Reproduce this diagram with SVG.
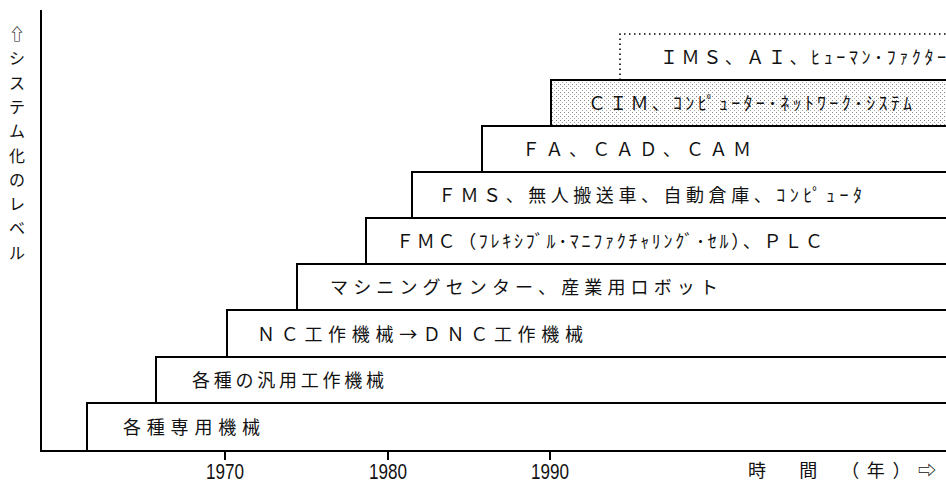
<svg xmlns="http://www.w3.org/2000/svg" width="946" height="487" viewBox="0 0 946 487">
<style>
.bar{fill:#fff;stroke:#000;stroke-width:2}
.dot{fill:none;stroke:#000;stroke-width:1.6;stroke-dasharray:1.5 3.5}
.ax{stroke:#000;stroke-width:2;fill:none}
.t{font-family:"Noto Sans CJK JP","Noto Sans",sans-serif;font-size:18px;fill:#111}
.y{font-family:"Liberation Sans",sans-serif;font-size:22px;fill:#111;text-anchor:middle}
.v{font-family:"Noto Sans CJK JP",sans-serif;font-size:16px;fill:#111;text-anchor:middle}
</style>
<defs>
<pattern id="stip" width="4" height="4" patternUnits="userSpaceOnUse">
<rect width="4" height="4" fill="#fff"/>
<rect x="0" y="0" width="1" height="1" fill="#888"/>
<rect x="2" y="2" width="1" height="1" fill="#aaa"/>
</pattern>
</defs>
<g id="axes">
<line class="ax" x1="41" y1="10" x2="41" y2="452"/>
<line class="ax" x1="40" y1="451" x2="946" y2="451"/>
<line class="ax" x1="225" y1="451" x2="225" y2="460"/>
<line class="ax" x1="388" y1="451" x2="388" y2="460"/>
<line class="ax" x1="550" y1="451" x2="550" y2="460"/>
</g>
<g id="n9"><path class="dot" d="M620,80 V34 H950"/><text class="t" x="660" y="64" textLength="286" lengthAdjust="spacing">ＩＭＳ、ＡＩ、ﾋｭｰﾏﾝ･ﾌｧｸﾀｰ</text></g>
<g id="n8"><rect class="bar" x="551" y="80" width="400" height="46" style="fill:url(#stip)"/><text class="t" x="588" y="110" textLength="324" lengthAdjust="spacing">ＣＩＭ、ｺﾝﾋﾟｭｰﾀｰ･ﾈｯﾄﾜｰｸ･ｼｽﾃﾑ</text></g>
<g id="n7"><rect class="bar" x="482" y="126" width="470" height="46"/><text class="t" x="522" y="156" textLength="229" lengthAdjust="spacing">ＦＡ、ＣＡＤ、ＣＡＭ</text></g>
<g id="n6"><rect class="bar" x="412" y="172" width="540" height="46"/><text class="t" x="438" y="202" textLength="424" lengthAdjust="spacing">ＦＭＳ、無人搬送車、自動倉庫、ｺﾝﾋﾟｭｰﾀ</text></g>
<g id="n5"><rect class="bar" x="366" y="218" width="590" height="46"/><text class="t" x="396" y="248" textLength="427" lengthAdjust="spacing">ＦＭＣ（ﾌﾚｷｼﾌﾞﾙ･ﾏﾆﾌｧｸﾁｬﾘﾝｸﾞ･ｾﾙ）、ＰＬＣ</text></g>
<g id="n4"><rect class="bar" x="297" y="264" width="660" height="46"/><text class="t" x="330" y="294" textLength="388" lengthAdjust="spacing">マシニングセンター、産業用ロボット</text></g>
<g id="n3"><rect class="bar" x="227" y="310" width="730" height="47"/><text class="t" x="257" y="341" textLength="326" lengthAdjust="spacing">ＮＣ工作機械→ＤＮＣ工作機械</text></g>
<g id="n2"><rect class="bar" x="156" y="357" width="800" height="46"/><text class="t" x="192" y="387" textLength="192" lengthAdjust="spacing">各種の汎用工作機械</text></g>
<g id="n1"><rect class="bar" x="87" y="403" width="870" height="48"/><text class="t" x="123" y="434" textLength="137" lengthAdjust="spacing">各種専用機械</text></g>
<g id="labels">
<text class="y" x="225" y="479" textLength="38" lengthAdjust="spacingAndGlyphs">1970</text>
<text class="y" x="388" y="479" textLength="38" lengthAdjust="spacingAndGlyphs">1980</text>
<text class="y" x="550" y="479" textLength="38" lengthAdjust="spacingAndGlyphs">1990</text>
<text class="t" x="748" y="477" textLength="188" lengthAdjust="spacing">時　間　（年）⇨</text>
<text class="v"><tspan x="17" y="40">⇧</tspan><tspan x="17" y="64">シ</tspan><tspan x="17" y="89">ス</tspan><tspan x="17" y="113">テ</tspan><tspan x="17" y="137">ム</tspan><tspan x="17" y="162">化</tspan><tspan x="17" y="186">の</tspan><tspan x="17" y="210">レ</tspan><tspan x="17" y="234">ベ</tspan><tspan x="17" y="259">ル</tspan></text>
</g>
</svg>
